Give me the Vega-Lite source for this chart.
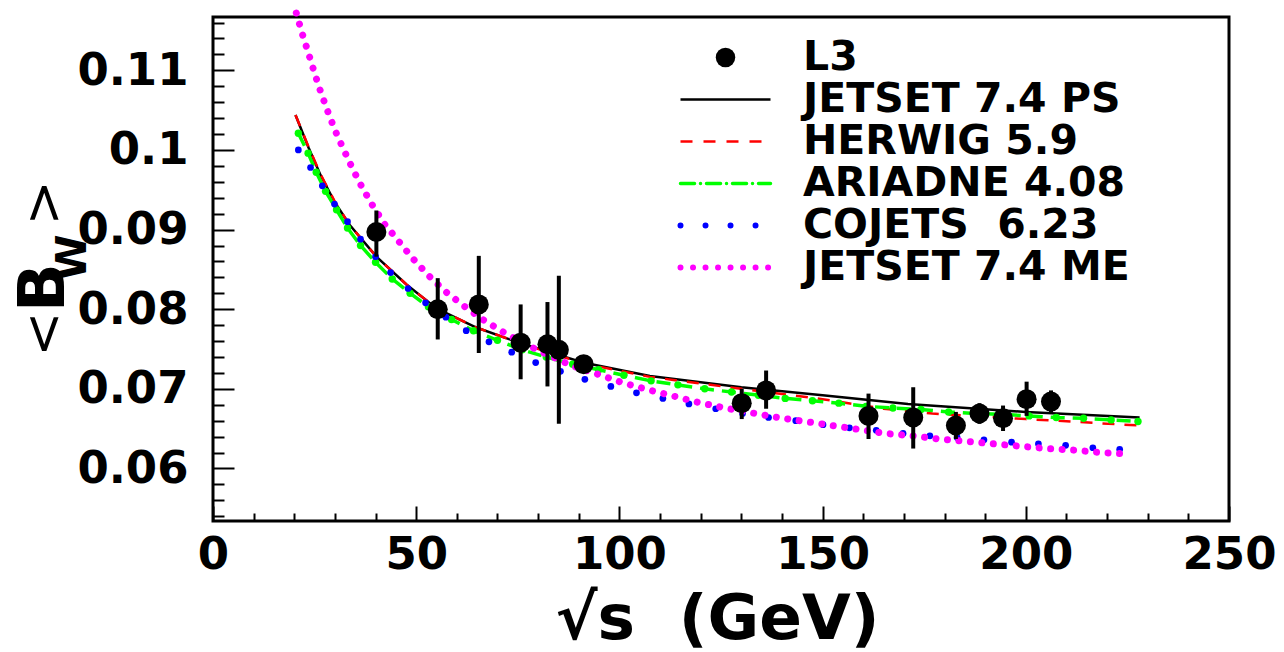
{
  "$schema": "https://vega.github.io/schema/vega-lite/v6.json",
  "width": 1016,
  "height": 504,
  "autosize": {"type": "none"},
  "padding": {"left": 213, "top": 17, "right": 55, "bottom": 131},
  "background": "white",
  "config": {
    "view": {"stroke": "black", "strokeWidth": 3},
    "font": "DejaVu Sans",
    "axis": {"grid": false, "domain": false, "tickColor": "black", "tickWidth": 2, "labelColor": "black", "titleColor": "black", "labelFont": "DejaVu Sans", "titleFont": "DejaVu Sans", "labelFontWeight": "bold", "titleFontWeight": "bold", "labelOverlap": false, "labelFlush": false}
  },
  "datasets": {
    "curves": [
      {"model": "JETSET 7.4 PS", "x": 20.3, "y": 0.1044},
      {"model": "JETSET 7.4 PS", "x": 23.5, "y": 0.1003},
      {"model": "JETSET 7.4 PS", "x": 26.5, "y": 0.0968},
      {"model": "JETSET 7.4 PS", "x": 30.0, "y": 0.0934},
      {"model": "JETSET 7.4 PS", "x": 33.6, "y": 0.0906},
      {"model": "JETSET 7.4 PS", "x": 40.2, "y": 0.0866},
      {"model": "JETSET 7.4 PS", "x": 47.6, "y": 0.0831},
      {"model": "JETSET 7.4 PS", "x": 55.0, "y": 0.0801},
      {"model": "JETSET 7.4 PS", "x": 64.8, "y": 0.0777},
      {"model": "JETSET 7.4 PS", "x": 74.7, "y": 0.0759},
      {"model": "JETSET 7.4 PS", "x": 91.0, "y": 0.0733},
      {"model": "JETSET 7.4 PS", "x": 107.5, "y": 0.0716},
      {"model": "JETSET 7.4 PS", "x": 130.0, "y": 0.0702},
      {"model": "JETSET 7.4 PS", "x": 150.0, "y": 0.0692},
      {"model": "JETSET 7.4 PS", "x": 171.0, "y": 0.0681},
      {"model": "JETSET 7.4 PS", "x": 200.0, "y": 0.0671},
      {"model": "JETSET 7.4 PS", "x": 228.0, "y": 0.0664},
      {"model": "HERWIG 5.9", "x": 20.3, "y": 0.1044},
      {"model": "HERWIG 5.9", "x": 23.5, "y": 0.1004},
      {"model": "HERWIG 5.9", "x": 26.5, "y": 0.0969},
      {"model": "HERWIG 5.9", "x": 30.0, "y": 0.0935},
      {"model": "HERWIG 5.9", "x": 33.6, "y": 0.0906},
      {"model": "HERWIG 5.9", "x": 40.2, "y": 0.0866},
      {"model": "HERWIG 5.9", "x": 47.6, "y": 0.0831},
      {"model": "HERWIG 5.9", "x": 55.0, "y": 0.0801},
      {"model": "HERWIG 5.9", "x": 64.8, "y": 0.0777},
      {"model": "HERWIG 5.9", "x": 74.7, "y": 0.0759},
      {"model": "HERWIG 5.9", "x": 91.0, "y": 0.0732},
      {"model": "HERWIG 5.9", "x": 107.5, "y": 0.0715},
      {"model": "HERWIG 5.9", "x": 130.0, "y": 0.0700},
      {"model": "HERWIG 5.9", "x": 150.0, "y": 0.0687},
      {"model": "HERWIG 5.9", "x": 165.0, "y": 0.0675},
      {"model": "HERWIG 5.9", "x": 177.0, "y": 0.0669},
      {"model": "HERWIG 5.9", "x": 200.0, "y": 0.0662},
      {"model": "HERWIG 5.9", "x": 211.0, "y": 0.0659},
      {"model": "HERWIG 5.9", "x": 224.0, "y": 0.0655},
      {"model": "HERWIG 5.9", "x": 228.0, "y": 0.0654},
      {"model": "ARIADNE 4.08", "x": 21.0, "y": 0.1021},
      {"model": "ARIADNE 4.08", "x": 23.4, "y": 0.0996},
      {"model": "ARIADNE 4.08", "x": 25.4, "y": 0.0972},
      {"model": "ARIADNE 4.08", "x": 27.7, "y": 0.0948},
      {"model": "ARIADNE 4.08", "x": 30.4, "y": 0.0925},
      {"model": "ARIADNE 4.08", "x": 33.1, "y": 0.0902},
      {"model": "ARIADNE 4.08", "x": 36.3, "y": 0.0880},
      {"model": "ARIADNE 4.08", "x": 40.0, "y": 0.0859},
      {"model": "ARIADNE 4.08", "x": 44.1, "y": 0.0838},
      {"model": "ARIADNE 4.08", "x": 48.5, "y": 0.0820},
      {"model": "ARIADNE 4.08", "x": 53.0, "y": 0.0803},
      {"model": "ARIADNE 4.08", "x": 58.7, "y": 0.0787},
      {"model": "ARIADNE 4.08", "x": 64.1, "y": 0.0773},
      {"model": "ARIADNE 4.08", "x": 70.0, "y": 0.0761},
      {"model": "ARIADNE 4.08", "x": 76.1, "y": 0.0749},
      {"model": "ARIADNE 4.08", "x": 82.0, "y": 0.0740},
      {"model": "ARIADNE 4.08", "x": 88.5, "y": 0.0731},
      {"model": "ARIADNE 4.08", "x": 94.9, "y": 0.0724},
      {"model": "ARIADNE 4.08", "x": 101.1, "y": 0.0717},
      {"model": "ARIADNE 4.08", "x": 107.8, "y": 0.0710},
      {"model": "ARIADNE 4.08", "x": 114.4, "y": 0.0705},
      {"model": "ARIADNE 4.08", "x": 121.0, "y": 0.0700},
      {"model": "ARIADNE 4.08", "x": 127.6, "y": 0.0696},
      {"model": "ARIADNE 4.08", "x": 134.2, "y": 0.0692},
      {"model": "ARIADNE 4.08", "x": 140.8, "y": 0.0688},
      {"model": "ARIADNE 4.08", "x": 147.5, "y": 0.0685},
      {"model": "ARIADNE 4.08", "x": 154.0, "y": 0.0682},
      {"model": "ARIADNE 4.08", "x": 160.7, "y": 0.0678},
      {"model": "ARIADNE 4.08", "x": 167.3, "y": 0.0676},
      {"model": "ARIADNE 4.08", "x": 174.2, "y": 0.0674},
      {"model": "ARIADNE 4.08", "x": 181.0, "y": 0.0671},
      {"model": "ARIADNE 4.08", "x": 187.5, "y": 0.0669},
      {"model": "ARIADNE 4.08", "x": 194.0, "y": 0.0668},
      {"model": "ARIADNE 4.08", "x": 200.8, "y": 0.0666},
      {"model": "ARIADNE 4.08", "x": 207.5, "y": 0.0664},
      {"model": "ARIADNE 4.08", "x": 214.2, "y": 0.0663},
      {"model": "ARIADNE 4.08", "x": 221.0, "y": 0.0661},
      {"model": "ARIADNE 4.08", "x": 227.6, "y": 0.0659},
      {"model": "COJETS  6.23", "x": 21.0, "y": 0.1000},
      {"model": "COJETS  6.23", "x": 24.0, "y": 0.0978},
      {"model": "COJETS  6.23", "x": 26.9, "y": 0.0955},
      {"model": "COJETS  6.23", "x": 29.9, "y": 0.0932},
      {"model": "COJETS  6.23", "x": 33.1, "y": 0.0910},
      {"model": "COJETS  6.23", "x": 36.3, "y": 0.0888},
      {"model": "COJETS  6.23", "x": 40.0, "y": 0.0866},
      {"model": "COJETS  6.23", "x": 43.7, "y": 0.0846},
      {"model": "COJETS  6.23", "x": 48.0, "y": 0.0826},
      {"model": "COJETS  6.23", "x": 52.3, "y": 0.0808},
      {"model": "COJETS  6.23", "x": 57.3, "y": 0.0790},
      {"model": "COJETS  6.23", "x": 62.3, "y": 0.0773},
      {"model": "COJETS  6.23", "x": 67.9, "y": 0.0759},
      {"model": "COJETS  6.23", "x": 73.5, "y": 0.0746},
      {"model": "COJETS  6.23", "x": 79.4, "y": 0.0733},
      {"model": "COJETS  6.23", "x": 85.5, "y": 0.0722},
      {"model": "COJETS  6.23", "x": 91.5, "y": 0.0712},
      {"model": "COJETS  6.23", "x": 97.9, "y": 0.0703},
      {"model": "COJETS  6.23", "x": 104.2, "y": 0.0695},
      {"model": "COJETS  6.23", "x": 110.7, "y": 0.0688},
      {"model": "COJETS  6.23", "x": 117.1, "y": 0.0681},
      {"model": "COJETS  6.23", "x": 123.7, "y": 0.0675},
      {"model": "COJETS  6.23", "x": 130.3, "y": 0.0669},
      {"model": "COJETS  6.23", "x": 136.7, "y": 0.0664},
      {"model": "COJETS  6.23", "x": 143.4, "y": 0.0660},
      {"model": "COJETS  6.23", "x": 150.1, "y": 0.0655},
      {"model": "COJETS  6.23", "x": 156.6, "y": 0.0651},
      {"model": "COJETS  6.23", "x": 163.2, "y": 0.0648},
      {"model": "COJETS  6.23", "x": 169.8, "y": 0.0644},
      {"model": "COJETS  6.23", "x": 176.4, "y": 0.0641},
      {"model": "COJETS  6.23", "x": 183.1, "y": 0.0639},
      {"model": "COJETS  6.23", "x": 189.7, "y": 0.0636},
      {"model": "COJETS  6.23", "x": 196.5, "y": 0.0633},
      {"model": "COJETS  6.23", "x": 203.1, "y": 0.0631},
      {"model": "COJETS  6.23", "x": 209.8, "y": 0.0629},
      {"model": "COJETS  6.23", "x": 216.5, "y": 0.0626},
      {"model": "COJETS  6.23", "x": 223.1, "y": 0.0624},
      {"model": "JETSET 7.4 ME", "x": 20.5, "y": 0.1172},
      {"model": "JETSET 7.4 ME", "x": 21.9, "y": 0.1147},
      {"model": "JETSET 7.4 ME", "x": 23.4, "y": 0.1123},
      {"model": "JETSET 7.4 ME", "x": 24.9, "y": 0.1098},
      {"model": "JETSET 7.4 ME", "x": 26.5, "y": 0.1073},
      {"model": "JETSET 7.4 ME", "x": 28.2, "y": 0.1049},
      {"model": "JETSET 7.4 ME", "x": 30.0, "y": 0.1025},
      {"model": "JETSET 7.4 ME", "x": 32.1, "y": 0.1001},
      {"model": "JETSET 7.4 ME", "x": 34.3, "y": 0.0977},
      {"model": "JETSET 7.4 ME", "x": 36.7, "y": 0.0953},
      {"model": "JETSET 7.4 ME", "x": 39.3, "y": 0.0930},
      {"model": "JETSET 7.4 ME", "x": 42.2, "y": 0.0907},
      {"model": "JETSET 7.4 ME", "x": 45.6, "y": 0.0886},
      {"model": "JETSET 7.4 ME", "x": 49.1, "y": 0.0864},
      {"model": "JETSET 7.4 ME", "x": 52.9, "y": 0.0843},
      {"model": "JETSET 7.4 ME", "x": 57.0, "y": 0.0823},
      {"model": "JETSET 7.4 ME", "x": 61.5, "y": 0.0805},
      {"model": "JETSET 7.4 ME", "x": 66.4, "y": 0.0787},
      {"model": "JETSET 7.4 ME", "x": 71.5, "y": 0.0771},
      {"model": "JETSET 7.4 ME", "x": 76.8, "y": 0.0756},
      {"model": "JETSET 7.4 ME", "x": 82.3, "y": 0.0743},
      {"model": "JETSET 7.4 ME", "x": 88.3, "y": 0.0729},
      {"model": "JETSET 7.4 ME", "x": 94.3, "y": 0.0719},
      {"model": "JETSET 7.4 ME", "x": 100.6, "y": 0.0708},
      {"model": "JETSET 7.4 ME", "x": 106.9, "y": 0.0699},
      {"model": "JETSET 7.4 ME", "x": 113.2, "y": 0.0691},
      {"model": "JETSET 7.4 ME", "x": 119.4, "y": 0.0683},
      {"model": "JETSET 7.4 ME", "x": 125.9, "y": 0.0676},
      {"model": "JETSET 7.4 ME", "x": 132.4, "y": 0.0670},
      {"model": "JETSET 7.4 ME", "x": 139.0, "y": 0.0664},
      {"model": "JETSET 7.4 ME", "x": 145.6, "y": 0.0659},
      {"model": "JETSET 7.4 ME", "x": 152.2, "y": 0.0654},
      {"model": "JETSET 7.4 ME", "x": 158.8, "y": 0.0649},
      {"model": "JETSET 7.4 ME", "x": 165.4, "y": 0.0644},
      {"model": "JETSET 7.4 ME", "x": 172.0, "y": 0.0641},
      {"model": "JETSET 7.4 ME", "x": 178.6, "y": 0.0637},
      {"model": "JETSET 7.4 ME", "x": 185.2, "y": 0.0634},
      {"model": "JETSET 7.4 ME", "x": 191.8, "y": 0.0631},
      {"model": "JETSET 7.4 ME", "x": 198.4, "y": 0.0628},
      {"model": "JETSET 7.4 ME", "x": 205.2, "y": 0.0625},
      {"model": "JETSET 7.4 ME", "x": 211.8, "y": 0.0623},
      {"model": "JETSET 7.4 ME", "x": 218.5, "y": 0.0620},
      {"model": "JETSET 7.4 ME", "x": 225.3, "y": 0.0618}
    ],
    "l3": [
      {"model": "L3", "x": 40.2, "y": 0.0897, "lo": 0.0866, "hi": 0.0924},
      {"model": "L3", "x": 55.3, "y": 0.0800, "lo": 0.0762, "hi": 0.0839},
      {"model": "L3", "x": 65.4, "y": 0.0806, "lo": 0.0745, "hi": 0.0867},
      {"model": "L3", "x": 75.7, "y": 0.0758, "lo": 0.0712, "hi": 0.0806},
      {"model": "L3", "x": 82.3, "y": 0.0756, "lo": 0.0703, "hi": 0.0809},
      {"model": "L3", "x": 85.1, "y": 0.0749, "lo": 0.0656, "hi": 0.0842},
      {"model": "L3", "x": 91.2, "y": 0.0731, "lo": 0.0729, "hi": 0.0733},
      {"model": "L3", "x": 130.1, "y": 0.0682, "lo": 0.0662, "hi": 0.0700},
      {"model": "L3", "x": 136.1, "y": 0.0698, "lo": 0.0675, "hi": 0.0723},
      {"model": "L3", "x": 161.3, "y": 0.0666, "lo": 0.0637, "hi": 0.0694},
      {"model": "L3", "x": 172.3, "y": 0.0664, "lo": 0.0625, "hi": 0.0702},
      {"model": "L3", "x": 182.8, "y": 0.0654, "lo": 0.0637, "hi": 0.0671},
      {"model": "L3", "x": 188.6, "y": 0.0669, "lo": 0.0656, "hi": 0.0682},
      {"model": "L3", "x": 194.4, "y": 0.0663, "lo": 0.0647, "hi": 0.0679},
      {"model": "L3", "x": 200.2, "y": 0.0687, "lo": 0.0666, "hi": 0.0709},
      {"model": "L3", "x": 206.2, "y": 0.0684, "lo": 0.0670, "hi": 0.0698}
    ]
  },
  "layer": [
    {
      "encoding": {
        "x": {
          "field": "x", "type": "quantitative",
          "scale": {"domain": [0, 250], "nice": false, "zero": false},
          "axis": {
            "title": "√s \u00a0(GeV)",
            "values": [0,10,20,30,40,50,60,70,80,90,100,110,120,130,140,150,160,170,180,190,200,210,220,230,240,250],
            "labelExpr": "datum.value % 50 === 0 ? datum.label : ''",
            "tickSize": {"condition": {"test": "datum.value % 50 === 0", "value": -15}, "value": -8},
            "labelFontSize": 45,
            "labelPadding": 26,
            "titleFontSize": 63,
            "titleX": 504,
            "titleY": 117,
            "titleAlign": "center",
            "titleBaseline": "alphabetic"
          }
        },
        "y": {
          "field": "y", "type": "quantitative",
          "scale": {"domain": [0.0534, 0.1167], "nice": false, "zero": false},
          "axis": {
            "title": "B",
            "values": [0.054,0.056,0.058,0.06,0.062,0.064,0.066,0.068,0.07,0.072,0.074,0.076,0.078,0.08,0.082,0.084,0.086,0.088,0.09,0.092,0.094,0.096,0.098,0.1,0.102,0.104,0.106,0.108,0.11,0.112,0.114,0.116],
            "labelExpr": "abs(datum.value*100 - round(datum.value*100)) < 0.001 ? format(datum.value, '~g') : ''",
            "tickSize": {"condition": {"test": "abs(datum.value*100 - round(datum.value*100)) < 0.001", "value": -21}, "value": -11},
            "labelFontSize": 45,
            "labelPadding": 46,
            "labelBaseline": "middle",
            "titleFontSize": 64,
            "titleAngle": -90,
            "titleX": -150,
            "titleY": 270,
            "titleAlign": "center",
            "titleBaseline": "alphabetic"
          }
        }
      },
      "layer": [
        {
          "data": {"name": "curves"},
          "transform": [{"filter": "datum.model === 'JETSET 7.4 PS'"}],
          "mark": {"type": "line", "strokeWidth": 2.5},
          "encoding": {
            "color": {
              "field": "model", "type": "nominal",
              "scale": {
                "domain": ["L3", "JETSET 7.4 PS", "HERWIG 5.9", "ARIADNE 4.08", "COJETS  6.23", "JETSET 7.4 ME"],
                "range": ["black", "black", "#ff0000", "#00ff00", "#0000ff", "#ff00ff"]
              },
              "legend": {
                "orient": "none",
                "legendX": 492,
                "legendY": 20,
                "title": null,
                "padding": 0,
                "symbolSize": 8100,
                "symbolStrokeWidth": 2.5,
                "labelFont": "DejaVu Sans",
                "labelFontWeight": "bold",
                "labelFontSize": 41,
                "labelColor": "black",
                "labelOffset": 57,
                "labelLimit": 600,
                "rowPadding": 0,
                "labelExpr": "replace(datum.label, '  ', ' \u00a0')",
                "encode": {
                  "symbols": {
                    "update": {
                      "shape": {"signal": "datum.value === 'L3' ? 'circle' : 'stroke'"},
                      "size": {"signal": "datum.value === 'L3' ? 380 : 8100"},
                      "fill": {"signal": "datum.value === 'L3' ? 'black' : 'transparent'"},
                      "fillOpacity": {"value": 1},
                      "strokeWidth": {"signal": "datum.value === 'L3' ? 0 : (datum.value === 'COJETS  6.23' || datum.value === 'JETSET 7.4 ME') ? 6 : datum.value === 'ARIADNE 4.08' ? 3.5 : 2.5"},
                      "strokeDash": {"signal": "datum.value === 'HERWIG 5.9' ? [12, 11] : datum.value === 'ARIADNE 4.08' ? [14, 6, 0.01, 6] : datum.value === 'COJETS  6.23' ? [0.01, 25] : datum.value === 'JETSET 7.4 ME' ? [0.01, 12.5] : [1, 0]"},
                      "strokeCap": {"signal": "(datum.value === 'COJETS  6.23' || datum.value === 'JETSET 7.4 ME' || datum.value === 'ARIADNE 4.08') ? 'round' : 'butt'"}
                    }
                  }
                }
              }
            }
          }
        },
        {
          "data": {"name": "curves"},
          "transform": [{"filter": "datum.model === 'HERWIG 5.9'"}],
          "mark": {"type": "line", "strokeWidth": 2.5, "strokeDash": [12, 10]},
          "encoding": {"color": {"field": "model", "type": "nominal"}}
        },
        {
          "data": {"name": "curves"},
          "transform": [{"filter": "datum.model === 'ARIADNE 4.08'"}],
          "mark": {"type": "line", "strokeWidth": 3.5, "strokeDash": [14, 8]},
          "encoding": {"color": {"field": "model", "type": "nominal"}}
        },
        {
          "data": {"name": "curves"},
          "transform": [{"filter": "datum.model === 'ARIADNE 4.08'"}],
          "mark": {"type": "point", "filled": true, "size": 55, "opacity": 1},
          "encoding": {"color": {"field": "model", "type": "nominal"}}
        },
        {
          "data": {"name": "curves"},
          "transform": [{"filter": "datum.model === 'COJETS  6.23'"}],
          "mark": {"type": "point", "filled": true, "size": 45, "opacity": 1},
          "encoding": {"color": {"field": "model", "type": "nominal"}}
        },
        {
          "data": {"name": "curves"},
          "transform": [{"filter": "datum.model === 'JETSET 7.4 ME'"}],
          "mark": {"type": "line", "strokeWidth": 7, "strokeDash": [0.01, 11.5], "strokeCap": "round"},
          "encoding": {"color": {"field": "model", "type": "nominal"}}
        },
        {
          "data": {"name": "l3"},
          "mark": {"type": "rule", "strokeWidth": 4, "color": "black"},
          "encoding": {
            "y": {"field": "lo", "type": "quantitative"},
            "y2": {"field": "hi"}
          }
        },
        {
          "data": {"name": "l3"},
          "mark": {"type": "point", "filled": true, "size": 400, "opacity": 1},
          "encoding": {"color": {"field": "model", "type": "nominal"}}
        }
      ]
    },
    {
      "data": {"name": "l3"},
      "mark": {"type": "point", "opacity": 0},
      "encoding": {
        "y": {
          "field": "y", "type": "quantitative",
          "axis": {
            "orient": "left",
            "title": "W",
            "labels": false,
            "ticks": false,
            "domain": false,
            "titleFontSize": 42,
            "titleAngle": -90,
            "titleX": -128,
            "titleY": 240,
            "titleAlign": "center",
            "titleBaseline": "alphabetic"
          }
        }
      }
    },
    {
      "data": {"name": "l3"},
      "mark": {"type": "point", "opacity": 0},
      "encoding": {
        "y": {
          "field": "y", "type": "quantitative",
          "axis": {
            "orient": "left",
            "title": "<\u00a0\u00a0\u00a0\u00a0\u00a0>",
            "labels": false,
            "ticks": false,
            "domain": false,
            "titleFontSize": 54,
            "titleFontWeight": "normal",
            "titleAngle": -90,
            "titleX": -153,
            "titleY": 251,
            "titleAlign": "center",
            "titleBaseline": "alphabetic"
          }
        }
      }
    }
  ],
  "resolve": {"axis": {"y": "independent"}}
}
